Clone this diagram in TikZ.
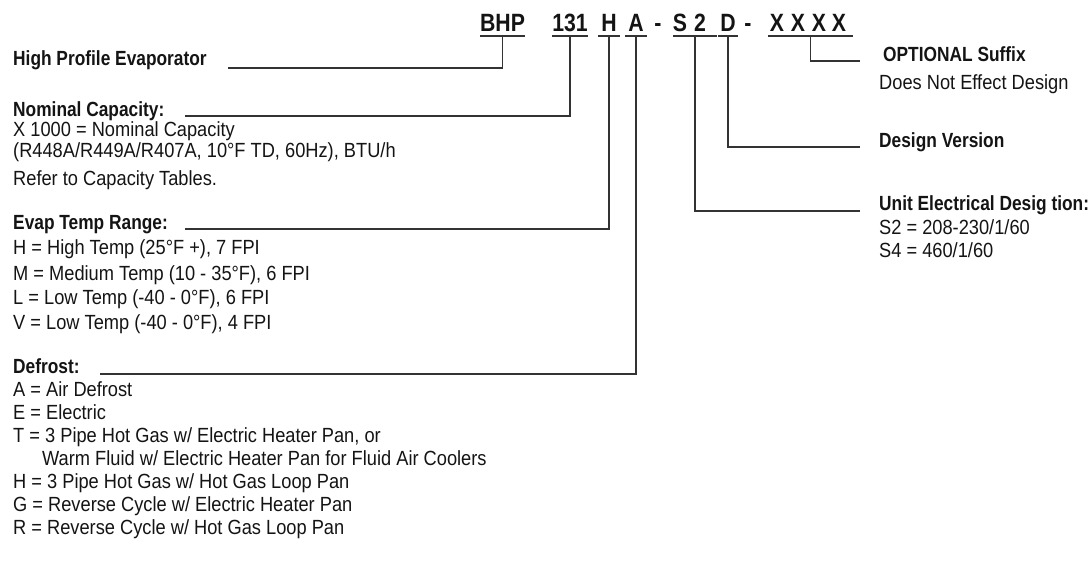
\documentclass[tikz,border=0pt]{standalone}
\usepackage{fontspec}
\setmainfont{Liberation Sans}
\newfontfamily\txf[FakeStretch=0.89]{Liberation Sans}
\newfontfamily\hdf[FakeStretch=0.845]{Liberation Sans}
\newfontfamily\codef[FakeStretch=0.85]{Liberation Sans}
\begin{document}
\begin{tikzpicture}[x=1pt,y=-1pt,
  txt/.style={anchor=base west,inner sep=0pt,font=\txf\fontsize{20.5}{24}\selectfont,text=black!92},
  hd/.style={anchor=base west,inner sep=0pt,font=\hdf\bfseries\fontsize{20.5}{24}\selectfont,text=black!92},
  code/.style={anchor=base,inner sep=0pt,font=\codef\bfseries\fontsize{25}{30}\selectfont,text=black!92},
  ln/.style={line width=1.3pt,draw=black!80},
]
\useasboundingbox (0,0) rectangle (1092,561);
% model code
\node[code] (bhp) at (502.5,32) {BHP};
\node[code] (cap) at (570,32) {131};
\node[code] (tmp) at (609,32) {H};
\node[code] (dfr) at (636,32) {A};
\node[code] (dashA) at (658,32) {-};
\node[code] (sS) at (680,32) {S};
\node[code] (sTwo) at (700,32) {2};
\node[code] (ver) at (728,32) {D};
\node[code] (dashB) at (748,32) {-};
\node[code] (xa) at (777,32) {X};
\node[code] (xb) at (798,32) {X};
\node[code] (xc) at (819,32) {X};
\node[code] (xd) at (839,32) {X};
% underline anchors
\coordinate (uBHP) at (502.5,36);
\coordinate (uCap) at (570,36);
\coordinate (uTmp) at (609,36);
\coordinate (uDfr) at (636,36);
\coordinate (uEl) at (695,36);
\coordinate (uVer) at (728,36);
\coordinate (uSuf) at (810.5,36);
\draw[ln] ([xshift=-22.5pt]uBHP) -- ([xshift=22.5pt]uBHP);
\draw[ln] ([xshift=-18pt]uCap) -- ([xshift=18pt]uCap);
\draw[ln] ([xshift=-11pt]uTmp) -- ([xshift=11pt]uTmp);
\draw[ln] ([xshift=-11pt]uDfr) -- ([xshift=11pt]uDfr);
\draw[ln] ([xshift=-22pt]uEl) -- ([xshift=22pt]uEl);
\draw[ln] ([xshift=-10pt]uVer) -- ([xshift=10pt]uVer);
\draw[ln] ([xshift=-42.5pt]uSuf) -- ([xshift=42.5pt]uSuf);
% line ends
\coordinate (eHP) at (228,68);
\coordinate (eNom) at (185,116);
\coordinate (eEv) at (185,229);
\coordinate (eDf) at (100,374);
\coordinate (eEl) at (860,211);
\coordinate (eVer) at (860,147);
\coordinate (eSuf) at (860,61);
\draw[ln] (uBHP) |- (eHP);
\draw[ln] (uCap) |- (eNom);
\draw[ln] (uTmp) |- (eEv);
\draw[ln] (uDfr) |- (eDf);
\draw[ln] (uEl) |- (eEl);
\draw[ln] (uVer) |- (eVer);
\draw[ln] (uSuf) |- (eSuf);
% left texts
\node[hd] (hp) at (13,66) {High Profile Evaporator};
\node[hd] (nomh) at (13,117) {Nominal Capacity:};
\node[txt] (n1) at (13,137) {X 1000 = Nominal Capacity};
\node[txt] (n2) at (13,158) {(R448A/R449A/R407A, 10°F TD, 60Hz), BTU/h};
\node[txt] (n3) at (13,186) {Refer to Capacity Tables.};
\node[hd] (evh) at (13,230) {Evap Temp Range:};
\node[txt] (e1) at (13,255) {H = High Temp (25°F +), 7 FPI};
\node[txt] (e2) at (13,280) {M = Medium Temp (10 - 35°F), 6 FPI};
\node[txt] (e3) at (13,305) {L = Low Temp (-40 - 0°F), 6 FPI};
\node[txt] (e4) at (13,329) {V = Low Temp (-40 - 0°F), 4 FPI};
\node[hd] (dfh) at (13,373) {Defrost:};
\node[txt] (d1) at (13,396) {A = Air Defrost};
\node[txt] (d2) at (13,419) {E = Electric};
\node[txt] (d3) at (13,442) {T = 3 Pipe Hot Gas w/ Electric Heater Pan, or};
\node[txt] (d4) at (42,465) {Warm Fluid w/ Electric Heater Pan for Fluid Air Coolers};
\node[txt] (d5) at (13,488) {H = 3 Pipe Hot Gas w/ Hot Gas Loop Pan};
\node[txt] (d6) at (13,511) {G = Reverse Cycle w/ Electric Heater Pan};
\node[txt] (d7) at (13,534) {R = Reverse Cycle w/ Hot Gas Loop Pan};
% right texts
\node[hd] (sufh) at (883,62) {OPTIONAL Suffix};
\node[txt] (suf1) at (879,90) {Does Not Effect Design};
\node[hd] (verh) at (879,148) {Design Version};
\node[hd] (elh) at (879,211) {Unit Electrical Desig tion:};
\node[txt] (el1) at (879,235) {S2 = 208-230/1/60};
\node[txt] (el2) at (879,258) {S4 = 460/1/60};
\end{tikzpicture}
\end{document}
